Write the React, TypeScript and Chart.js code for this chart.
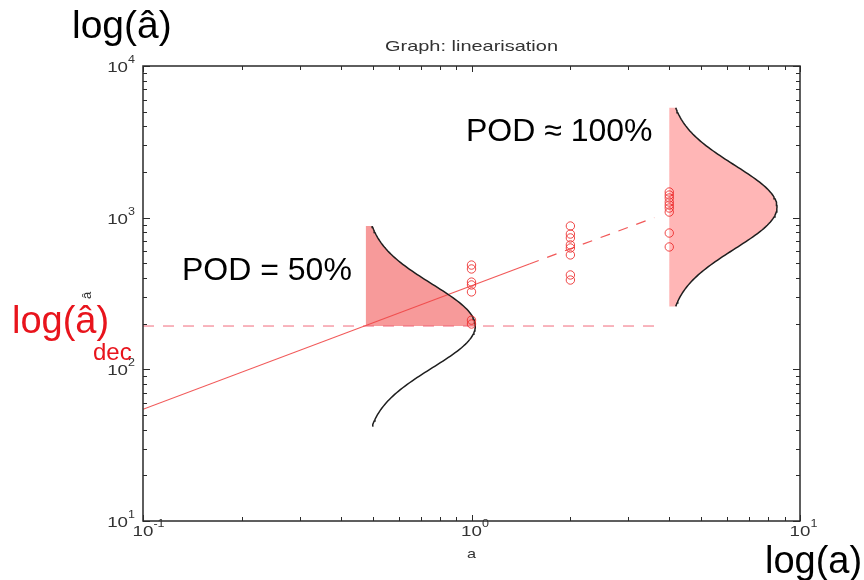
import { useEffect, useRef } from 'react';
import { Chart, registerables } from 'chart.js';

Chart.register(...registerables);

// ---- axes ----
const X_MIN = 0.1;
const X_MAX = 10;
const Y_MIN = 10;
const Y_MAX = 10000;
const X_MAJOR = [0.1, 1, 10];
const X_EXPONENTS = ['-1', '0', '1'];
const Y_MAJOR = [10, 100, 1000, 10000];
const Y_EXPONENTS = ['1', '2', '3', '4'];

// ---- measurements (a, â) ----
const sizeLevels = [1, 2, 4];
const responsesAt1 = [487, 459, 376, 360, 324, 211, 199];
const responsesAt2 = [881, 780, 735, 661, 631, 568, 419, 388];
const responsesAt4 = [1476, 1410, 1348, 1268, 1211, 1158, 1089, 792, 641];

// ---- linear fit in log-log ----
const fitSolidA = [0.1, 1.5];
const fitSolidAhat = [54.5, 495];
const fitDashedA = [1.5, 3.6];
const fitDashedAhat = [495, 1000];

// ---- decision threshold ----
const decisionThreshold = 193;
const thresholdA = [0.1, 3.8];

// ---- scatter distributions (log-normal pdf drawn sideways) ----
const pod50 = { base: 0.477, mean: 193, sigma: 0.276, height: 0.333, span: 0.66 };
const pod100 = { base: 4, mean: 1175, sigma: 0.276, height: 0.328, span: 0.655 };

const FONT = '"Liberation Sans", Arial, Helvetica, sans-serif';
const STRETCH = 1.25;

type P = { x: number; y: number };
type Pdf = { base: number; mean: number; sigma: number; height: number; span: number };

function pdfCurve(p: Pdf, fromLog: number, toLog: number, n: number): P[] {
  const pts: P[] = [];
  const m = Math.log10(p.mean);
  for (let i = 0; i <= n; i++) {
    const ly = fromLog + ((toLog - fromLog) * i) / n;
    const z = (ly - m) / p.sigma;
    const lx = Math.log10(p.base) + p.height * Math.exp(-0.5 * z * z);
    pts.push({ x: Math.pow(10, lx), y: Math.pow(10, ly) });
  }
  return pts;
}

function zip(xs: number[], ys: number[]): P[] {
  return xs.map((x, i) => ({ x, y: ys[i] }));
}

function sText(ctx: CanvasRenderingContext2D, text: string, x: number, y: number, sx: number) {
  ctx.save();
  ctx.translate(x, y);
  ctx.scale(sx, 1);
  ctx.textAlign = 'left';
  ctx.fillText(text, 0, 0);
  ctx.restore();
}

function drawPow(
  ctx: CanvasRenderingContext2D,
  exp: string,
  x: number,
  y: number,
  mode: 'center' | 'right'
) {
  ctx.font = `15px ${FONT}`;
  const wBase = ctx.measureText('10').width * STRETCH;
  ctx.font = `10px ${FONT}`;
  const wExp = ctx.measureText(exp).width * STRETCH;
  const bx = mode === 'center' ? x - wBase / 2 : x - wBase - wExp;
  ctx.textBaseline = 'alphabetic';
  ctx.font = `15px ${FONT}`;
  sText(ctx, '10', bx, y, STRETCH);
  ctx.font = `10px ${FONT}`;
  sText(ctx, exp, bx + wBase, y - 9, STRETCH);
}

const overlay = {
  id: 'overlay',
  afterDatasetsDraw(chart: any) {
    const { ctx, chartArea } = chart;
    const { left, right, top, bottom } = chartArea;
    const xs = chart.scales.x;
    const ys = chart.scales.y;
    ctx.save();

    // frame
    ctx.strokeStyle = '#2a2a2a';
    ctx.lineWidth = 1.5;
    ctx.strokeRect(left, top, right - left, bottom - top);

    // ticks
    ctx.lineWidth = 1;
    const xTicks: [number, number][] = [];
    for (const d of [0.1, 1]) {
      for (let k = 1; k <= 9; k++) xTicks.push([k * d, k === 1 ? 6 : 4]);
    }
    xTicks.push([10, 6]);
    for (const [v, len] of xTicks) {
      const px = Math.round(xs.getPixelForValue(v)) + 0.5;
      ctx.beginPath();
      ctx.moveTo(px, bottom);
      ctx.lineTo(px, bottom - len);
      ctx.moveTo(px, top);
      ctx.lineTo(px, top + len);
      ctx.stroke();
    }
    const yTicks: [number, number][] = [];
    for (const d of [10, 100, 1000]) {
      for (let k = 1; k <= 9; k++) yTicks.push([k * d, k === 1 ? 7 : 4]);
    }
    yTicks.push([10000, 7]);
    for (const [v, len] of yTicks) {
      const py = Math.round(ys.getPixelForValue(v)) + 0.5;
      ctx.beginPath();
      ctx.moveTo(left, py);
      ctx.lineTo(left + len, py);
      ctx.moveTo(right, py);
      ctx.lineTo(right - len, py);
      ctx.stroke();
    }

    // tick labels
    ctx.fillStyle = '#333333';
    X_MAJOR.forEach((v, i) => {
      drawPow(ctx, X_EXPONENTS[i], xs.getPixelForValue(v), bottom + 15, 'center');
    });
    Y_MAJOR.forEach((v, i) => {
      drawPow(ctx, Y_EXPONENTS[i], left - 8, ys.getPixelForValue(v) + 6, 'right');
    });

    // axis titles
    ctx.font = `13px ${FONT}`;
    ctx.fillStyle = '#333333';
    const wa = ctx.measureText('a').width * STRETCH;
    sText(ctx, 'a', (left + right) / 2 - wa / 2, bottom + 37, STRETCH);
    ctx.save();
    ctx.translate(91, (top + bottom) / 2 + 2);
    ctx.rotate(-Math.PI / 2);
    ctx.textAlign = 'center';
    ctx.fillText('â', 0, 0);
    ctx.restore();

    // title
    ctx.font = `15px ${FONT}`;
    const tw = ctx.measureText('Graph: linearisation').width * 1.33;
    sText(ctx, 'Graph: linearisation', (left + right) / 2 - tw / 2, top - 15, 1.33);

    // annotations
    ctx.textAlign = 'left';
    ctx.fillStyle = '#000000';
    ctx.font = `39px ${FONT}`;
    ctx.fillText('log(â)', 72, 38);
    ctx.font = `38px ${FONT}`;
    ctx.fillText('log(a)', 765, 573);
    ctx.font = `32px ${FONT}`;
    ctx.fillText('POD = 50%', 182, 280);
    ctx.fillText('POD ≈ 100%', 466, 141);
    ctx.fillStyle = '#e8141c';
    ctx.font = `38px ${FONT}`;
    ctx.fillText('log(â)', 12, 333);
    ctx.font = `24px ${FONT}`;
    ctx.fillText('dec', 93, 360);

    ctx.restore();
  },
};

export default function App() {
  const ref = useRef<HTMLCanvasElement | null>(null);

  useEffect(() => {
    if (!ref.current) return;

    const lm50 = Math.log10(pod50.mean);
    const lm100 = Math.log10(pod100.mean);
    const curve50 = pdfCurve(pod50, lm50 - pod50.span, lm50 + pod50.span, 120);
    const upper50 = pdfCurve(pod50, lm50, lm50 + pod50.span, 60);
    const fill50: P[] = [
      { x: pod50.base, y: pod50.mean },
      ...upper50,
      { x: pod50.base, y: Math.pow(10, lm50 + pod50.span) },
    ];
    const curve100 = pdfCurve(pod100, lm100 - pod100.span, lm100 + pod100.span, 120);
    const fill100: P[] = [
      { x: pod100.base, y: Math.pow(10, lm100 - pod100.span) },
      ...curve100,
      { x: pod100.base, y: Math.pow(10, lm100 + pod100.span) },
    ];

    const points: P[] = [
      ...responsesAt1.map((y) => ({ x: sizeLevels[0], y })),
      ...responsesAt2.map((y) => ({ x: sizeLevels[1], y })),
      ...responsesAt4.map((y) => ({ x: sizeLevels[2], y })),
    ];

    const lineBase = { pointRadius: 0, tension: 0, showLine: true };

    const chart = new Chart(ref.current, {
      type: 'line',
      data: {
        datasets: [
          {
            label: 'measurements',
            data: points,
            showLine: false,
            pointRadius: 4.2,
            pointBorderWidth: 1,
            pointBackgroundColor: 'rgba(0,0,0,0)',
            pointBorderColor: 'rgba(236,40,40,0.85)',
            order: 1,
          },
          {
            ...lineBase,
            label: 'pdf 50 curve',
            data: curve50,
            borderColor: '#1e1e1e',
            borderWidth: 1.5,
            fill: false,
            order: 2,
          },
          {
            ...lineBase,
            label: 'pdf 100 curve',
            data: curve100,
            borderColor: '#1e1e1e',
            borderWidth: 1.5,
            fill: false,
            order: 2,
          },
          {
            ...lineBase,
            label: 'fit solid',
            data: zip(fitSolidA, fitSolidAhat),
            borderColor: 'rgba(240,70,70,0.9)',
            borderWidth: 1.2,
            fill: false,
            order: 3,
          },
          {
            ...lineBase,
            label: 'fit dashed',
            data: zip(fitDashedA, fitDashedAhat),
            borderColor: 'rgba(240,70,70,0.9)',
            borderWidth: 1.2,
            borderDash: [10, 9],
            fill: false,
            order: 3,
          },
          {
            ...lineBase,
            label: 'threshold',
            data: thresholdA.map((x) => ({ x, y: decisionThreshold })),
            borderColor: 'rgba(240,90,110,0.9)',
            borderWidth: 1,
            borderDash: [11, 9],
            fill: false,
            order: 3,
          },
          {
            ...lineBase,
            label: 'pdf 50 fill',
            data: fill50,
            borderWidth: 0,
            borderColor: 'rgba(0,0,0,0)',
            backgroundColor: '#f79a9a',
            fill: 'shape',
            order: 5,
          },
          {
            ...lineBase,
            label: 'pdf 100 fill',
            data: fill100,
            borderWidth: 0,
            borderColor: 'rgba(0,0,0,0)',
            backgroundColor: '#ffb6b6',
            fill: 'shape',
            order: 5,
          },
        ],
      },
      options: {
        animation: false,
        responsive: false,
        events: [],
        layout: { padding: { left: 143, top: 66, right: 64, bottom: 59 } },
        plugins: { legend: { display: false }, tooltip: { enabled: false }, title: { display: false } },
        scales: {
          x: { type: 'logarithmic', min: X_MIN, max: X_MAX, display: false },
          y: { type: 'logarithmic', min: Y_MIN, max: Y_MAX, display: false },
        },
      } as any,
      plugins: [overlay],
    });

    return () => chart.destroy();
  }, []);

  return (
    <div style={{ position: 'absolute', left: 0, top: 0, width: 864, height: 580, background: '#fff' }}>
      <canvas ref={ref} width={864} height={580} style={{ display: 'block' }} />
    </div>
  );
}
